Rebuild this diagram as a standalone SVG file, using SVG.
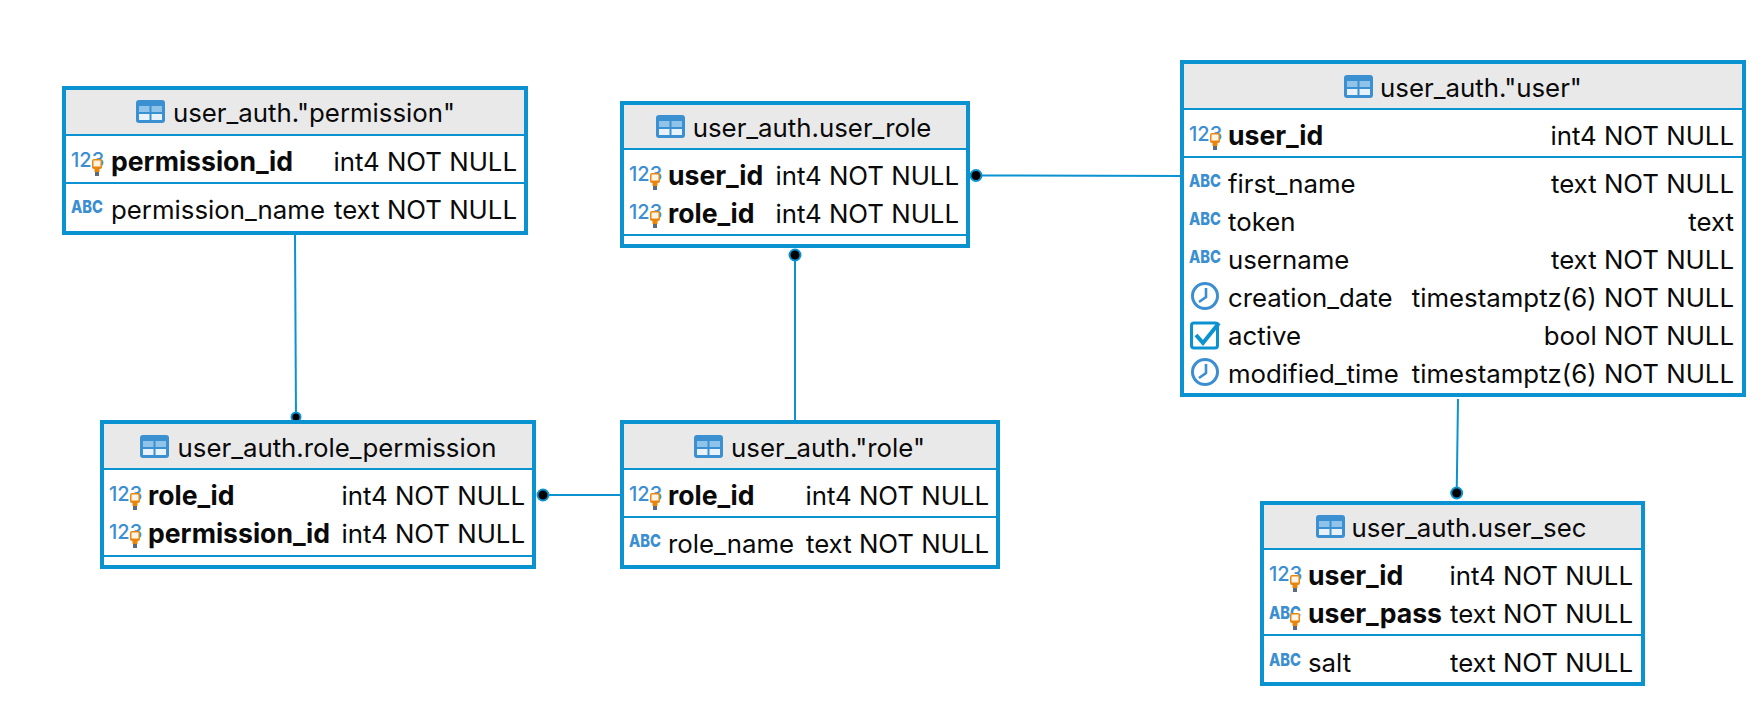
<svg xmlns="http://www.w3.org/2000/svg" xmlns:xlink="http://www.w3.org/1999/xlink" width="1764" height="706" viewBox="0 0 1764 706">
<style>
text{font-family:Inter,"Noto Sans","Liberation Sans",sans-serif;fill:#0a0a0a}
.t,.r,.b,.y{transform:translateY(1px)}
.t{font-size:25.800px;text-anchor:middle}
.r{font-size:25.800px}
.b{font-size:26.600px;font-weight:700}
.y{font-size:25.800px;text-anchor:end}
.box{fill:#fff;stroke:#0a93d0;stroke-width:4}
.hd{fill:#e9e9e9}
.ln{stroke:#0a93d0;stroke-width:2;fill:none}
.c{stroke:#0a93d0;stroke-width:2;fill:none}
.d{fill:#000;stroke:#0a93d0;stroke-width:2}
.n{font-size:20px;font-weight:500;fill:#3b8fd0}
.a{font-size:17.500px;font-weight:800;fill:#3b8fd0}
</style>
<defs>
<g id="tbl"><rect width="29" height="23" rx="3" fill="#3a90d0"/><rect x="3" y="6" width="10.500" height="6" fill="#8fc3ea"/><rect x="15.500" y="6" width="10.500" height="6" fill="#8fc3ea"/><rect x="3" y="14" width="10.500" height="6" fill="#e8f2fa"/><rect x="15.500" y="14" width="10.500" height="6" fill="#e8f2fa"/></g>
<g id="key"><rect x="0" y="0" width="10" height="10" rx="2" fill="#e8860c"/><rect x="1.500" y="1.500" width="7" height="6" fill="#fdf3e6"/><rect x="2.500" y="10" width="5" height="3" fill="#e8860c"/><rect x="3" y="13" width="4" height="4" fill="#5a6a80"/></g>
<g id="clk"><circle r="12.500" fill="none" stroke="#3b8fd0" stroke-width="3"/><path d="M1 -8V1L-6 6" fill="none" stroke="#3b8fd0" stroke-width="2.600"/></g>
<g id="chk"><rect x="1.500" y="3" width="26" height="25" rx="2.500" fill="none" stroke="#0a93d0" stroke-width="3"/><path d="M6 15L13 23L29 3" fill="none" stroke="#0a93d0" stroke-width="4"/></g>
</defs>

<g id="connectors">
<path class="c" d="M295 235L296 418"/>
<circle class="d" cx="296" cy="417" r="4.500"/>
<path class="c" d="M795 255V424"/>
<circle class="d" cx="795" cy="255" r="5.500"/>
<path class="c" d="M976 175.500L1185 176"/>
<circle class="d" cx="976" cy="175.500" r="5.500"/>
<path class="c" d="M1458 399L1456.700 493"/>
<circle class="d" cx="1456.700" cy="493" r="5.500"/>
<path class="c" d="M543 495H620"/>
<circle class="d" cx="543" cy="495" r="5.500"/>
</g>

<g id="permission">
<rect class="box" x="64" y="88" width="462" height="145"/>
<rect class="hd" x="66" y="90" width="458" height="44"/>
<path class="ln" d="M64 135H526M64 183H526"/>
<use xlink:href="#tbl" x="136" y="100"/>
<text class="t" x="314" y="121">user_auth."permission"</text>
<text class="n" x="71" y="167">123</text><use xlink:href="#key" x="92" y="159"/>
<text class="b" x="111" y="170">permission_id</text>
<text class="y" x="517" y="170">int4 NOT NULL</text>
<text class="a" x="71" y="213" textLength="32" lengthAdjust="spacingAndGlyphs">ABC</text>
<text class="r" x="111" y="218">permission_name</text>
<text class="y" x="517" y="218">text NOT NULL</text>
</g>

<g id="role_permission">
<rect class="box" x="102" y="422" width="432" height="145"/>
<rect class="hd" x="104" y="424" width="428" height="44"/>
<path class="ln" d="M102 469H534M102 556H534"/>
<use xlink:href="#tbl" x="140" y="435"/>
<text class="t" x="337" y="456">user_auth.role_permission</text>
<text class="n" x="109" y="501">123</text><use xlink:href="#key" x="130" y="493"/>
<text class="b" x="148" y="504">role_id</text>
<text class="y" x="525" y="504">int4 NOT NULL</text>
<text class="n" x="109" y="539">123</text><use xlink:href="#key" x="130" y="531"/>
<text class="b" x="148" y="542">permission_id</text>
<text class="y" x="525" y="542">int4 NOT NULL</text>
</g>

<g id="role">
<rect class="box" x="622" y="422" width="376" height="145"/>
<rect class="hd" x="624" y="424" width="372" height="44"/>
<path class="ln" d="M622 469H998M622 517H998"/>
<use xlink:href="#tbl" x="694" y="435"/>
<text class="t" x="828" y="456">user_auth."role"</text>
<text class="n" x="629" y="501">123</text><use xlink:href="#key" x="650" y="493"/>
<text class="b" x="668" y="504">role_id</text>
<text class="y" x="989" y="504">int4 NOT NULL</text>
<text class="a" x="629" y="547" textLength="32" lengthAdjust="spacingAndGlyphs">ABC</text>
<text class="r" x="668" y="552">role_name</text>
<text class="y" x="989" y="552">text NOT NULL</text>
</g>

<g id="user_role">
<rect class="box" x="622" y="103" width="346" height="143"/>
<rect class="hd" x="624" y="105" width="342" height="43"/>
<path class="ln" d="M622 149H968M622 235H968"/>
<use xlink:href="#tbl" x="656" y="115"/>
<text class="t" x="812" y="136">user_auth.user_role</text>
<text class="n" x="629" y="181">123</text><use xlink:href="#key" x="650" y="173"/>
<text class="b" x="668" y="184">user_id</text>
<text class="y" x="959" y="184">int4 NOT NULL</text>
<text class="n" x="629" y="219">123</text><use xlink:href="#key" x="650" y="211"/>
<text class="b" x="668" y="222">role_id</text>
<text class="y" x="959" y="222">int4 NOT NULL</text>
</g>

<g id="user">
<rect class="box" x="1182" y="62" width="562" height="333"/>
<rect class="hd" x="1184" y="64" width="558" height="44"/>
<path class="ln" d="M1182 109H1744M1182 157H1744"/>
<use xlink:href="#tbl" x="1344" y="75"/>
<text class="t" x="1481" y="96">user_auth."user"</text>
<text class="n" x="1189" y="141">123</text><use xlink:href="#key" x="1210" y="133"/>
<text class="b" x="1228" y="144">user_id</text>
<text class="y" x="1734" y="144">int4 NOT NULL</text>
<text class="a" x="1189" y="187" textLength="32" lengthAdjust="spacingAndGlyphs">ABC</text>
<text class="r" x="1228" y="192">first_name</text>
<text class="y" x="1734" y="192">text NOT NULL</text>
<text class="a" x="1189" y="225" textLength="32" lengthAdjust="spacingAndGlyphs">ABC</text>
<text class="r" x="1228" y="230">token</text>
<text class="y" x="1734" y="230">text</text>
<text class="a" x="1189" y="263" textLength="32" lengthAdjust="spacingAndGlyphs">ABC</text>
<text class="r" x="1228" y="268">username</text>
<text class="y" x="1734" y="268">text NOT NULL</text>
<use xlink:href="#clk" x="1205" y="296"/>
<text class="r" x="1228" y="306">creation_date</text>
<text class="y" x="1734" y="306">timestamptz(6) NOT NULL</text>
<use xlink:href="#chk" x="1190" y="320"/>
<text class="r" x="1228" y="344">active</text>
<text class="y" x="1734" y="344">bool NOT NULL</text>
<use xlink:href="#clk" x="1205" y="372"/>
<text class="r" x="1228" y="382">modified_time</text>
<text class="y" x="1734" y="382">timestamptz(6) NOT NULL</text>
</g>

<g id="user_sec">
<rect class="box" x="1262" y="503" width="381" height="181"/>
<rect class="hd" x="1264" y="505" width="377" height="43"/>
<path class="ln" d="M1262 549H1643M1262 635H1643"/>
<use xlink:href="#tbl" x="1316" y="515"/>
<text class="t" x="1469" y="536">user_auth.user_sec</text>
<text class="n" x="1269" y="581">123</text><use xlink:href="#key" x="1290" y="575"/>
<text class="b" x="1308" y="584">user_id</text>
<text class="y" x="1633" y="584">int4 NOT NULL</text>
<text class="a" x="1269" y="619" textLength="32" lengthAdjust="spacingAndGlyphs">ABC</text><use xlink:href="#key" x="1290" y="613"/>
<text class="b" x="1308" y="622">user_pass</text>
<text class="y" x="1633" y="622">text NOT NULL</text>
<text class="a" x="1269" y="666" textLength="32" lengthAdjust="spacingAndGlyphs">ABC</text>
<text class="r" x="1308" y="671">salt</text>
<text class="y" x="1633" y="671">text NOT NULL</text>
</g>
</svg>
